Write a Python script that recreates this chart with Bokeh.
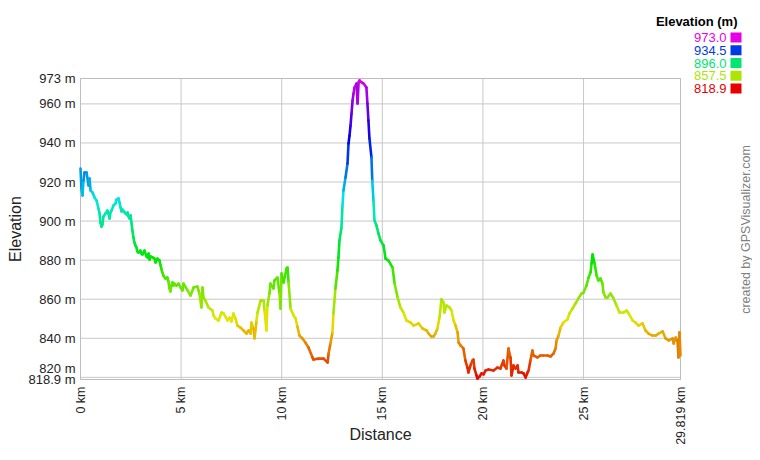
import math
import colorsys
from bokeh.plotting import figure
from bokeh.models import Label, BoxAnnotation, Range1d
from bokeh.embed import file_html
from bokeh.resources import INLINE

# ---- data ----
distance_km = [
    0.00, 0.05, 0.10, 0.15, 0.20, 0.30, 0.40, 0.45, 0.50, 0.60, 0.70, 0.80, 0.89, 0.94, 0.99, 1.04, 1.09, 1.14,
    1.24, 1.34, 1.39, 1.44, 1.49, 1.54, 1.64, 1.74, 1.79, 1.89, 1.94, 1.99, 2.04, 2.09, 2.19, 2.29, 2.34, 2.39,
    2.44, 2.49, 2.53, 2.58, 2.63, 2.68, 2.73, 2.78, 2.83, 2.88, 2.98, 3.03, 3.08, 3.13, 3.18, 3.28, 3.33, 3.38,
    3.43, 3.48, 3.58, 3.68, 3.73, 3.83, 3.93, 3.98, 4.03, 4.12, 4.22, 4.32, 4.37, 4.42, 4.47, 4.52, 4.57, 4.62,
    4.67, 4.77, 4.87, 4.97, 5.07,
    5.12, 5.32, 5.47, 5.62, 5.81, 5.91, 6.01, 6.06, 6.11, 6.21, 6.36, 6.56, 6.61, 6.71, 6.86, 7.01, 7.11, 7.31,
    7.41, 7.50, 7.60, 7.70, 7.80, 7.95, 8.10, 8.25, 8.35, 8.45, 8.50, 8.60, 8.65, 8.75, 8.80, 8.95, 9.10, 9.15,
    9.24, 9.29, 9.39, 9.44, 9.59, 9.64, 9.79, 9.89, 9.94, 9.99, 10.09, 10.24, 10.29, 10.34, 10.44, 10.59, 10.69,
    10.78, 10.88,
    11.03, 11.18, 11.33, 11.53, 11.58, 11.83, 12.08, 12.28, 12.33, 12.42, 12.52, 12.57, 12.67, 12.77, 12.82,
    12.87, 12.97, 13.02, 13.07, 13.17, 13.27, 13.32, 13.37, 13.42, 13.47, 13.52, 13.57, 13.62, 13.72, 13.77,
    13.82, 13.87, 13.97, 14.07, 14.21, 14.26, 14.31, 14.36, 14.46, 14.50, 14.56, 14.61, 14.71, 14.81, 14.91,
    15.06, 15.16, 15.31, 15.51, 15.61, 15.76, 15.90, 16.05, 16.20, 16.40, 16.55, 16.80, 17.00, 17.20, 17.30,
    17.44, 17.54, 17.64, 17.74, 17.84, 17.94, 18.04, 18.09, 18.19, 18.34, 18.44, 18.54, 18.64, 18.74, 18.79,
    18.89, 19.03, 19.13, 19.23, 19.28, 19.38, 19.48, 19.53, 19.58, 19.68, 19.73, 19.83, 19.93, 20.03, 20.13,
    20.28, 20.53, 20.72, 20.87, 21.02, 21.07, 21.17, 21.27, 21.37, 21.42, 21.52, 21.62, 21.72, 21.77, 21.92,
    22.02, 22.12, 22.22, 22.27, 22.36, 22.46, 22.51, 22.71, 22.86, 23.01, 23.21, 23.36, 23.51, 23.61, 23.66,
    23.76, 23.86, 24.00, 24.20, 24.30, 24.45, 24.60, 24.75, 24.90, 25.00, 25.15, 25.25, 25.35, 25.40, 25.45,
    25.55, 25.65, 25.74, 25.84, 25.94, 25.99, 26.09, 26.19, 26.34, 26.49, 26.64, 26.79, 26.99, 27.14, 27.24,
    27.44, 27.58, 27.73, 27.93, 28.08, 28.23, 28.43, 28.58, 28.73, 28.93, 29.08, 29.23, 29.43, 29.48, 29.58,
    29.67, 29.72, 29.77, 29.819,
]
elevation_m = [
    926.9, 915.7, 913.1, 920.8, 924.9, 924.9, 918.2, 921.8, 915.7, 914.6, 912.1, 910.5, 906.4, 904.4, 899.3, 897.2, 898.2, 902.3,
    903.9, 905.4, 903.9, 901.3, 904.4, 905.4, 908.0, 909.0, 911.0, 911.6, 909.5, 907.0, 904.9, 905.9, 904.4, 903.4, 904.4, 902.3,
    901.3, 902.9, 899.3, 895.2, 891.6, 889.0, 887.5, 886.5, 884.4, 883.9, 884.9, 883.4, 882.9, 883.9, 884.9, 881.9, 881.4, 883.4,
    880.3, 881.9, 881.4, 880.8, 878.8, 880.8, 879.8, 877.3, 875.2, 872.1, 870.6, 871.1, 869.1, 865.5, 864.0, 867.0, 868.6, 867.0,
    868.0, 867.0, 868.0, 866.0, 864.5,
    868.0, 864.5, 861.9, 866.0, 866.5, 862.9, 855.8, 866.0, 860.9, 859.3, 855.8, 854.2, 851.7, 850.1, 849.1, 853.2, 852.7, 849.1,
    850.6, 848.6, 852.7, 850.1, 846.5, 845.5, 844.0, 842.4, 844.0, 842.4, 848.1, 845.0, 839.9, 849.1, 853.2, 859.3, 859.3, 854.2,
    844.0, 856.8, 862.9, 868.0, 865.5, 869.6, 871.1, 862.9, 855.2, 873.2, 868.6, 875.7, 876.2, 868.6, 855.2, 851.7, 850.1,
    846.0, 841.4,
    839.9, 837.8, 835.3, 830.2, 829.1, 829.6, 829.6, 827.6, 832.2, 837.3, 843.0, 852.7, 865.5, 874.7, 881.4,
    890.1, 896.7, 908.0, 915.7, 922.3, 929.5, 939.7, 943.8, 948.9, 955.1, 961.7, 965.3, 968.4, 970.4, 960.2,
    971.0, 972.0, 971.0, 970.4, 968.4, 960.2, 951.5, 942.3, 932.6, 920.8, 910.5, 900.3, 897.7, 893.6, 890.1,
    887.5, 880.8, 879.8, 876.2, 868.0, 860.9, 855.8, 853.2, 849.1, 848.1, 846.5, 847.6, 845.0, 844.0, 842.4,
    840.9, 840.9, 842.4, 845.0, 850.6, 859.9, 858.3, 853.2, 856.8, 855.8, 854.2, 849.1, 846.5, 843.0, 837.8,
    836.3, 834.8, 828.6, 825.0, 822.5, 826.1, 828.6, 829.1, 824.5, 821.0, 819.4, 820.4, 822.0, 821.5, 823.5,
    824.0, 823.5, 825.0, 824.5, 828.6, 826.1, 824.5, 834.8, 830.2, 821.0, 826.1, 824.5, 826.1, 822.5, 822.5,
    822.0, 819.9, 822.5, 823.5, 828.6, 833.7, 831.2, 830.2, 831.2, 831.2, 831.2, 830.7, 832.2, 834.8, 838.9,
    841.4, 845.5, 848.1, 849.6, 852.7, 855.2, 857.8, 860.4, 862.9, 863.4, 867.0, 871.1, 873.7, 878.3, 882.9,
    878.3, 872.1, 869.6, 870.6, 868.0, 863.4, 860.9, 860.9, 862.9, 860.4, 856.8, 853.2, 853.2, 854.2, 852.7,
    849.1, 848.1, 846.5, 847.6, 844.0, 842.4, 841.4, 841.4, 842.4, 843.5, 839.9, 838.9, 839.9, 837.3, 840.4,
    838.9, 830.2, 843.0, 831.2,
]

x_ticks = [0, 5, 10, 15, 20, 25, 29.819]
x_tick_labels = ["0 km", "5 km", "10 km", "15 km", "20 km", "25 km", "29.819 km"]
y_ticks = [818.9, 820, 840, 860, 880, 900, 920, 940, 960, 973]
y_tick_labels = ["818.9 m", "820 m", "840 m", "860 m", "880 m", "900 m", "920 m", "940 m", "960 m", "973 m"]
legend_values = [973.0, 934.5, 896.0, 857.5, 818.9]
legend_labels = ["973.0", "934.5", "896.0", "857.5", "818.9"]

E_MIN, E_MAX = 818.9, 973.0
X_MAX = 29.819

# ---- layout (pixels) ----
W, H = 752, 444
PL, PR, PT, PB = 80, 680, 78, 379          # plot-area edges in canvas pixels
FONT = "Liberation Sans"
GRID = "#c8c8c8"
AXIS = "#bdbdbd"

kx = X_MAX / (PR - PL)
ky = (E_MAX - E_MIN) / (PB - PT)
x_range = Range1d(0 - PL * kx, X_MAX + (W - PR) * kx)
y_range = Range1d(E_MIN - (H - PB) * ky, E_MAX + PT * ky)


def elev_color(e):
    f = (e - E_MIN) / (E_MAX - E_MIN)
    f = min(max(f, 0.0), 1.0)
    r, g, b = colorsys.hsv_to_rgb(300.0 * f / 360.0, 1.0, 0.9)
    return "#%02x%02x%02x" % (round(r * 255), round(g * 255), round(b * 255))


p = figure(width=W, height=H, output_backend="svg", toolbar_location=None,
           x_range=x_range, y_range=y_range, x_axis_type=None, y_axis_type=None,
           min_border=0, min_border_left=0, min_border_right=0, min_border_top=0, min_border_bottom=0)
p.background_fill_color = "white"
p.border_fill_color = "white"
p.outline_line_color = None
p.grid.visible = False

# grid lines at the tick positions
p.segment(x0=x_ticks, x1=x_ticks, y0=[E_MIN] * len(x_ticks), y1=[E_MAX] * len(x_ticks),
          line_color=GRID, line_width=1)
p.segment(x0=[0] * len(y_ticks), x1=[X_MAX] * len(y_ticks), y0=y_ticks, y1=y_ticks,
          line_color=GRID, line_width=1)
# plot-area frame (axes lines + border)
p.quad(left=[0], right=[X_MAX], bottom=[E_MIN], top=[E_MAX], fill_color=None,
       line_color=AXIS, line_width=1)

# coloured profile line
x0 = distance_km[:-1]
x1 = distance_km[1:]
y0 = elevation_m[:-1]
y1 = elevation_m[1:]
cols = [elev_color((a + b) / 2.0) for a, b in zip(y0, y1)]
p.segment(x0=x0, y0=y0, x1=x1, y1=y1, line_color=cols, line_width=2.6, line_cap="round")

# tick labels
for t, lab in zip(x_ticks, x_tick_labels):
    p.add_layout(Label(x=t, y=E_MIN, x_units="data", y_units="data", y_offset=-7, text=lab,
                       angle=math.pi / 2, text_align="right", text_baseline="middle",
                       text_font=FONT, text_font_size="12.5px", text_color="#222222"))
for t, lab in zip(y_ticks, y_tick_labels):
    p.add_layout(Label(x=0, y=t, x_units="data", y_units="data", x_offset=-5,
                       y_offset=9 if lab == "820 m" else 0, text=lab,
                       text_align="right", text_baseline="middle", text_font=FONT,
                       text_font_size="13px", text_color="#222222"))

# axis titles
p.add_layout(Label(x=X_MAX / 2, y=E_MIN, x_units="data", y_units="data", y_offset=-55, text="Distance",
                   text_align="center", text_baseline="middle", text_font=FONT,
                   text_font_size="16px", text_color="#222222"))
p.add_layout(Label(x=0, y=(E_MIN + E_MAX) / 2, x_units="data", y_units="data", x_offset=-65,
                   text="Elevation", angle=math.pi / 2,
                   text_align="center", text_baseline="middle", text_font=FONT,
                   text_font_size="16px", text_color="#222222"))

# colour legend (canvas pixels, y measured from the bottom)
p.add_layout(Label(x=737, y=H - 21, x_units="screen", y_units="screen", text="Elevation (m)",
                   text_align="right", text_baseline="middle", text_font=FONT,
                   text_font_size="13px", text_font_style="bold", text_color="#000000"))
for i, (v, lab) in enumerate(zip(legend_values, legend_labels)):
    cy = H - 37 - i * 12.75
    c = elev_color(v)
    p.add_layout(Label(x=726, y=cy, x_units="screen", y_units="screen", text=lab,
                       text_align="right", text_baseline="middle", text_font=FONT,
                       text_font_size="13px", text_color=c))
    p.add_layout(BoxAnnotation(left=730, right=741, bottom=cy - 5, top=cy + 5,
                               left_units="screen", right_units="screen",
                               bottom_units="screen", top_units="screen",
                               fill_color=c, fill_alpha=1.0, line_color=None))

# credit
p.add_layout(Label(x=745, y=H - 229, x_units="screen", y_units="screen", text="created by GPSVisualizer.com",
                   angle=math.pi / 2, text_align="center", text_baseline="middle", text_font=FONT,
                   text_font_size="12.5px", text_color="#808080"))

open("out.html", "w").write(file_html(p, INLINE))
